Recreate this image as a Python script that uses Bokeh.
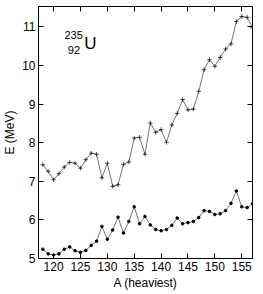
from bokeh.plotting import figure
from bokeh.models import LinearAxis, Label, Range1d, FixedTicker
from bokeh.embed import file_html
from bokeh.resources import INLINE

A = list(range(118, 158))
E_upper = [7.43, 7.26, 7.04, 7.20, 7.37, 7.49, 7.47, 7.34, 7.56, 7.73,
           7.70, 7.09, 7.47, 6.87, 6.91, 7.44, 7.50, 8.12, 8.14, 7.70,
           8.51, 8.27, 8.34, 8.01, 8.46, 8.76, 9.12, 8.85, 8.87, 9.33,
           9.89, 10.15, 9.98, 10.21, 10.43, 10.56, 11.14, 11.27, 11.25, 10.98]
E_lower = [5.24, 5.12, 5.09, 5.12, 5.24, 5.30, 5.20, 5.16, 5.21, 5.34,
           5.45, 5.83, 5.50, 5.74, 6.07, 5.66, 5.96, 6.34, 5.90, 6.09,
           5.87, 5.75, 5.72, 5.75, 5.86, 6.05, 5.90, 5.93, 5.96, 6.06,
           6.24, 6.22, 6.14, 6.16, 6.24, 6.43, 6.75, 6.34, 6.32, 6.42]
x_ticks = [120, 125, 130, 135, 140, 145, 150, 155]
y_ticks = [5, 6, 7, 8, 9, 10, 11]

FONT = "Liberation Sans"

p = figure(width=263, height=294, output_backend="svg", toolbar_location=None,
           x_range=Range1d(117.2, 157.0), y_range=Range1d(5.0, 11.53),
           min_border_left=37, min_border_right=11, min_border_top=6, min_border_bottom=36)
p.xgrid.visible = False
p.ygrid.visible = False
p.outline_line_color = "black"
p.outline_line_alpha = 1.0
p.outline_line_width = 1
p.background_fill_color = "white"
p.border_fill_color = "white"

def style_axis(ax, labels=True, ticks=None):
    ax.axis_line_color = "black"
    ax.major_tick_line_color = "black"
    ax.minor_tick_line_color = None
    ax.major_tick_in = 5
    ax.major_tick_out = 0
    if labels:
        ax.major_label_text_font = FONT
        ax.major_label_text_font_size = "12px"
        ax.major_label_text_color = "black"
        ax.major_label_standoff = 3
        ax.axis_label_text_font = FONT
        ax.axis_label_text_font_size = "12px"
        ax.axis_label_text_font_style = "normal"
        ax.axis_label_text_color = "black"
        ax.axis_label_standoff = 2
    else:
        ax.major_label_overrides = {t: "" for t in ticks}
        ax.major_label_standoff = 0

p.xaxis.ticker = FixedTicker(ticks=x_ticks)
p.yaxis.ticker = FixedTicker(ticks=y_ticks)
p.xaxis.axis_label = "A (heaviest)"
p.yaxis.axis_label = "E (MeV)"
style_axis(p.xaxis[0])
style_axis(p.yaxis[0])

top = LinearAxis(ticker=FixedTicker(ticks=x_ticks))
style_axis(top, labels=False, ticks=x_ticks)
p.add_layout(top, "above")
right = LinearAxis(ticker=FixedTicker(ticks=y_ticks))
style_axis(right, labels=False, ticks=y_ticks)
p.add_layout(right, "right")

p.line(A, E_upper, line_color="#666666", line_width=0.9)
p.scatter(A, E_upper, marker="cross", size=4.5, line_color="black", line_width=0.7)
p.line(A, E_lower, line_color="#666666", line_width=0.9)
p.scatter(A, E_lower, marker="circle", size=2.6, fill_color="black", line_color="black")

p.add_layout(Label(x=122.02, y=10.80, text="235", text_font=FONT, text_font_size="11px",
                   text_align="left", text_baseline="alphabetic", text_color="black"))
p.add_layout(Label(x=122.65, y=10.39, text="92", text_font=FONT, text_font_size="11px",
                   text_align="left", text_baseline="alphabetic", text_color="black"))
p.add_layout(Label(x=125.7, y=10.58, text="U", text_font=FONT, text_font_size="17px",
                   text_align="left", text_baseline="alphabetic", text_color="black"))

open("out.html", "w").write(file_html(p, INLINE))
